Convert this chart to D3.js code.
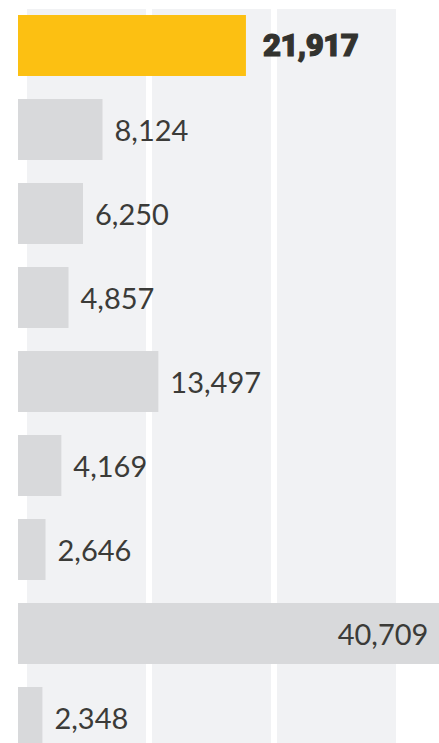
<!DOCTYPE html>
<html>
<head>
<meta charset="utf-8">
<script src="https://cdn.jsdelivr.net/npm/d3@7"></script>
<style>
  html, body { margin: 0; padding: 0; background: #fff; }
  svg { display: block; }
  .val { font-family: "Lato", "Open Sans", sans-serif; fill: #3b3b38; }
  .val.hi { font-family: "Roboto", "Lato", sans-serif; fill: #33332f; stroke: #33332f; stroke-width: 1.2px; }
</style>
</head>
<body>
<div id="chart"></div>
<script>
// values, top to bottom
var rows = ["r1", "r2", "r3", "r4", "r5", "r6", "r7", "r8", "r9"];
var values = [21917, 8124, 6250, 4857, 13497, 4169, 2646, 40709, 2348];
var highlight = [true, false, false, false, false, false, false, false, false];
// background stripes
var stripes = ["s1", "s2", "s3"];

var width = 439,
    height = 743;

var svg = d3.select("#chart")
    .append("svg")
    .attr("width", width)
    .attr("height", height);

// x scale, bars start at 18px
var x = d3.scaleLinear()
    .domain([0, 40000])
    .range([18, 434]);

// row bands
var y = d3.scaleBand()
    .domain(rows)
    .range([15, 748])
    .paddingInner(0.274)
    .paddingOuter(0);

// stripe bands
var sx = d3.scaleBand()
    .domain(stripes)
    .range([27, 396])
    .paddingInner(0.048)
    .paddingOuter(0);

svg.append("g")
    .selectAll("rect")
    .data(stripes)
    .join("rect")
        .attr("x", d => sx(d))
        .attr("y", 9)
        .attr("width", sx.bandwidth())
        .attr("height", height - 9)
        .attr("fill", "#f1f2f4");

var data = rows.map((r, i) => ({row: r, value: values[i], hi: highlight[i]}));

svg.append("g")
    .selectAll("rect")
    .data(data)
    .join("rect")
        .attr("x", x(0))
        .attr("y", d => y(d.row))
        .attr("width", d => x(d.value) - x(0))
        .attr("height", y.bandwidth())
        .attr("fill", d => d.hi ? "#fcc012" : "#d8d9db");

// labels go inside the bar when they would run off the right edge
var fmt = d3.format(",");
svg.append("g")
    .selectAll("text")
    .data(data)
    .join("text")
        .attr("class", d => d.hi ? "val hi" : "val")
        .attr("x", d => x(d.value) + 92 > width ? x(d.value) - 13 : x(d.value) + (d.hi ? 17 : 12))
        .attr("y", d => y(d.row) + y.bandwidth() / 2)
        .attr("dy", d => d.hi ? "0.33em" : "0.4em")
        .attr("text-anchor", d => x(d.value) + 92 > width ? "end" : "start")
        .attr("font-size", d => d.hi ? 31 : 29)
        .attr("font-weight", d => d.hi ? 900 : 400)
        .attr("letter-spacing", d => d.hi ? "-0.5px" : null)
        .text(d => fmt(d.value));
</script>
</body>
</html>
